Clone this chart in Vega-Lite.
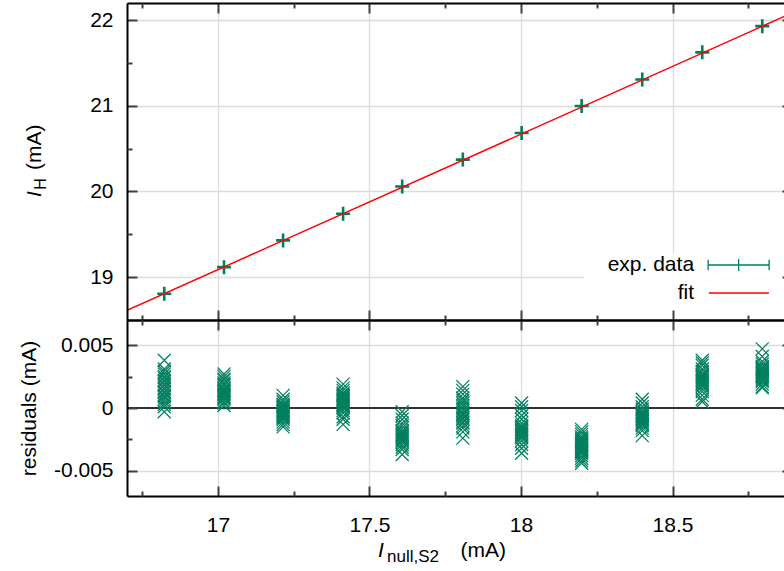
{
  "$schema": "https://vega.github.io/schema/vega-lite/v6.json",
  "padding": {"left": 18, "top": 2, "right": 0, "bottom": 0},
  "bounds": "flush",
  "spacing": 0,
  "config": {
    "font": "Liberation Sans",
    "view": {"stroke": null},
    "axis": {
      "domainColor": "#000000",
      "domainWidth": 2,
      "tickColor": "#404040",
      "tickWidth": 2,
      "gridColor": "#dcdcdc",
      "gridWidth": 1.3,
      "labelFont": "Liberation Sans",
      "labelFontSize": 21,
      "labelColor": "#000000",
      "titleFont": "Liberation Sans",
      "titleFontSize": 21,
      "titleFontWeight": "normal",
      "titleColor": "#000000"
    }
  },
  "datasets": {
    "points": [
      {"x": 16.823, "y": 18.806}, {"x": 17.02, "y": 19.117}, {"x": 17.215, "y": 19.429},
      {"x": 17.413, "y": 19.741}, {"x": 17.608, "y": 20.058}, {"x": 17.808, "y": 20.372},
      {"x": 18.002, "y": 20.683}, {"x": 18.2, "y": 20.998}, {"x": 18.4, "y": 21.307},
      {"x": 18.598, "y": 21.624}, {"x": 18.796, "y": 21.93}
    ],
    "fit": [
      {"x": 16.7, "y": 18.613}, {"x": 18.9, "y": 22.093}
    ],
    "one": [{}],
    "resid": [
      {"x": 16.823, "r": 0.0038}, {"x": 16.823, "r": 0.0031}, {"x": 16.823, "r": 0.0029}, {"x": 16.823, "r": 0.0027},
      {"x": 16.823, "r": 0.0025}, {"x": 16.823, "r": 0.0024}, {"x": 16.823, "r": 0.0022}, {"x": 16.823, "r": 0.0021},
      {"x": 16.823, "r": 0.0019}, {"x": 16.823, "r": 0.0018}, {"x": 16.823, "r": 0.0016}, {"x": 16.823, "r": 0.0015},
      {"x": 16.823, "r": 0.0013}, {"x": 16.823, "r": 0.0012}, {"x": 16.823, "r": 0.0010}, {"x": 16.823, "r": 0.0009},
      {"x": 16.823, "r": 0.0007}, {"x": 16.823, "r": 0.0005}, {"x": 16.823, "r": 0.0003}, {"x": 16.823, "r": 0.0001},
      {"x": 16.823, "r": -0.0003},
      {"x": 17.02, "r": 0.0027}, {"x": 17.02, "r": 0.0025}, {"x": 17.02, "r": 0.0023}, {"x": 17.02, "r": 0.0022},
      {"x": 17.02, "r": 0.0020}, {"x": 17.02, "r": 0.0019}, {"x": 17.02, "r": 0.0018}, {"x": 17.02, "r": 0.0016},
      {"x": 17.02, "r": 0.0015}, {"x": 17.02, "r": 0.0014}, {"x": 17.02, "r": 0.0013}, {"x": 17.02, "r": 0.0012},
      {"x": 17.02, "r": 0.0011}, {"x": 17.02, "r": 0.0010}, {"x": 17.02, "r": 0.0009}, {"x": 17.02, "r": 0.0008},
      {"x": 17.02, "r": 0.0007}, {"x": 17.02, "r": 0.0005}, {"x": 17.02, "r": 0.0004}, {"x": 17.02, "r": 0.0002},
      {"x": 17.215, "r": 0.0010}, {"x": 17.215, "r": 0.0007}, {"x": 17.215, "r": 0.0005}, {"x": 17.215, "r": 0.0003},
      {"x": 17.215, "r": 0.0002}, {"x": 17.215, "r": 0.0001}, {"x": 17.215, "r": 0.0000}, {"x": 17.215, "r": -0.0001},
      {"x": 17.215, "r": -0.0002}, {"x": 17.215, "r": -0.0003}, {"x": 17.215, "r": -0.0004}, {"x": 17.215, "r": -0.0005},
      {"x": 17.215, "r": -0.0006}, {"x": 17.215, "r": -0.0007}, {"x": 17.215, "r": -0.0008}, {"x": 17.215, "r": -0.0009},
      {"x": 17.215, "r": -0.0011}, {"x": 17.215, "r": -0.0013}, {"x": 17.215, "r": -0.0015},
      {"x": 17.413, "r": 0.0019}, {"x": 17.413, "r": 0.0016}, {"x": 17.413, "r": 0.0014}, {"x": 17.413, "r": 0.0012},
      {"x": 17.413, "r": 0.0011}, {"x": 17.413, "r": 0.0010}, {"x": 17.413, "r": 0.0009}, {"x": 17.413, "r": 0.0008},
      {"x": 17.413, "r": 0.0007}, {"x": 17.413, "r": 0.0006}, {"x": 17.413, "r": 0.0005}, {"x": 17.413, "r": 0.0004},
      {"x": 17.413, "r": 0.0003}, {"x": 17.413, "r": 0.0002}, {"x": 17.413, "r": 0.0001}, {"x": 17.413, "r": 0.0000},
      {"x": 17.413, "r": -0.0002}, {"x": 17.413, "r": -0.0004}, {"x": 17.413, "r": -0.0007}, {"x": 17.413, "r": -0.0009},
      {"x": 17.413, "r": -0.0013},
      {"x": 17.608, "r": -0.0003}, {"x": 17.608, "r": -0.0006}, {"x": 17.608, "r": -0.0009}, {"x": 17.608, "r": -0.0012},
      {"x": 17.608, "r": -0.0014}, {"x": 17.608, "r": -0.0016}, {"x": 17.608, "r": -0.0018}, {"x": 17.608, "r": -0.0019},
      {"x": 17.608, "r": -0.0020}, {"x": 17.608, "r": -0.0021}, {"x": 17.608, "r": -0.0022}, {"x": 17.608, "r": -0.0023},
      {"x": 17.608, "r": -0.0024}, {"x": 17.608, "r": -0.0025}, {"x": 17.608, "r": -0.0026}, {"x": 17.608, "r": -0.0027},
      {"x": 17.608, "r": -0.0029}, {"x": 17.608, "r": -0.0031}, {"x": 17.608, "r": -0.0033}, {"x": 17.608, "r": -0.0037},
      {"x": 17.808, "r": 0.0017}, {"x": 17.808, "r": 0.0014}, {"x": 17.808, "r": 0.0011}, {"x": 17.808, "r": 0.0008},
      {"x": 17.808, "r": 0.0006}, {"x": 17.808, "r": 0.0004}, {"x": 17.808, "r": 0.0002}, {"x": 17.808, "r": 0.0000},
      {"x": 17.808, "r": -0.0002}, {"x": 17.808, "r": -0.0004}, {"x": 17.808, "r": -0.0005}, {"x": 17.808, "r": -0.0006},
      {"x": 17.808, "r": -0.0008}, {"x": 17.808, "r": -0.0009}, {"x": 17.808, "r": -0.0011}, {"x": 17.808, "r": -0.0012},
      {"x": 17.808, "r": -0.0014}, {"x": 17.808, "r": -0.0016}, {"x": 17.808, "r": -0.0019}, {"x": 17.808, "r": -0.0024},
      {"x": 18.002, "r": 0.0004}, {"x": 18.002, "r": 0.0001}, {"x": 18.002, "r": -0.0002}, {"x": 18.002, "r": -0.0006},
      {"x": 18.002, "r": -0.0009}, {"x": 18.002, "r": -0.0012}, {"x": 18.002, "r": -0.0014}, {"x": 18.002, "r": -0.0015},
      {"x": 18.002, "r": -0.0016}, {"x": 18.002, "r": -0.0017}, {"x": 18.002, "r": -0.0018}, {"x": 18.002, "r": -0.0019},
      {"x": 18.002, "r": -0.0020}, {"x": 18.002, "r": -0.0021}, {"x": 18.002, "r": -0.0022}, {"x": 18.002, "r": -0.0023},
      {"x": 18.002, "r": -0.0024}, {"x": 18.002, "r": -0.0026}, {"x": 18.002, "r": -0.0029}, {"x": 18.002, "r": -0.0032},
      {"x": 18.002, "r": -0.0036},
      {"x": 18.2, "r": -0.0017}, {"x": 18.2, "r": -0.0019}, {"x": 18.2, "r": -0.0021}, {"x": 18.2, "r": -0.0023},
      {"x": 18.2, "r": -0.0024}, {"x": 18.2, "r": -0.0025}, {"x": 18.2, "r": -0.0026}, {"x": 18.2, "r": -0.0027},
      {"x": 18.2, "r": -0.0028}, {"x": 18.2, "r": -0.0029}, {"x": 18.2, "r": -0.0030}, {"x": 18.2, "r": -0.0031},
      {"x": 18.2, "r": -0.0032}, {"x": 18.2, "r": -0.0033}, {"x": 18.2, "r": -0.0034}, {"x": 18.2, "r": -0.0035},
      {"x": 18.2, "r": -0.0036}, {"x": 18.2, "r": -0.0038}, {"x": 18.2, "r": -0.0040}, {"x": 18.2, "r": -0.0042},
      {"x": 18.2, "r": -0.0044},
      {"x": 18.4, "r": 0.0007}, {"x": 18.4, "r": 0.0004}, {"x": 18.4, "r": 0.0001}, {"x": 18.4, "r": -0.0001},
      {"x": 18.4, "r": -0.0003}, {"x": 18.4, "r": -0.0004}, {"x": 18.4, "r": -0.0005}, {"x": 18.4, "r": -0.0006},
      {"x": 18.4, "r": -0.0007}, {"x": 18.4, "r": -0.0008}, {"x": 18.4, "r": -0.0009}, {"x": 18.4, "r": -0.0010},
      {"x": 18.4, "r": -0.0011}, {"x": 18.4, "r": -0.0012}, {"x": 18.4, "r": -0.0013}, {"x": 18.4, "r": -0.0014},
      {"x": 18.4, "r": -0.0016}, {"x": 18.4, "r": -0.0018}, {"x": 18.4, "r": -0.0022},
      {"x": 18.598, "r": 0.0038}, {"x": 18.598, "r": 0.0036}, {"x": 18.598, "r": 0.0034}, {"x": 18.598, "r": 0.0031},
      {"x": 18.598, "r": 0.0029}, {"x": 18.598, "r": 0.0027}, {"x": 18.598, "r": 0.0026}, {"x": 18.598, "r": 0.0025},
      {"x": 18.598, "r": 0.0024}, {"x": 18.598, "r": 0.0023}, {"x": 18.598, "r": 0.0022}, {"x": 18.598, "r": 0.0021},
      {"x": 18.598, "r": 0.0020}, {"x": 18.598, "r": 0.0019}, {"x": 18.598, "r": 0.0018}, {"x": 18.598, "r": 0.0017},
      {"x": 18.598, "r": 0.0015}, {"x": 18.598, "r": 0.0013}, {"x": 18.598, "r": 0.0010}, {"x": 18.598, "r": 0.0007},
      {"x": 18.598, "r": 0.0005},
      {"x": 18.796, "r": 0.0047}, {"x": 18.796, "r": 0.0041}, {"x": 18.796, "r": 0.0037}, {"x": 18.796, "r": 0.0035},
      {"x": 18.796, "r": 0.0033}, {"x": 18.796, "r": 0.0032}, {"x": 18.796, "r": 0.0031}, {"x": 18.796, "r": 0.0030},
      {"x": 18.796, "r": 0.0029}, {"x": 18.796, "r": 0.0028}, {"x": 18.796, "r": 0.0027}, {"x": 18.796, "r": 0.0026},
      {"x": 18.796, "r": 0.0025}, {"x": 18.796, "r": 0.0024}, {"x": 18.796, "r": 0.0023}, {"x": 18.796, "r": 0.0022},
      {"x": 18.796, "r": 0.0021}, {"x": 18.796, "r": 0.0019}, {"x": 18.796, "r": 0.0017}, {"x": 18.796, "r": 0.0016}
    ]
  },
  "vconcat": [
    {
      "width": 658,
      "height": 317,
      "layer": [
        {
          "data": {"name": "points"},
          "mark": {"type": "point", "shape": "M-1,0H1M0,-1V1", "size": 196, "strokeWidth": 2.6, "filled": false, "color": "#007f5f", "opacity": 1},
          "encoding": {
            "x": {"field": "x", "type": "quantitative",
                  "scale": {"domain": [16.7, 18.871], "nice": false, "zero": false},
                  "axis": {"orient": "bottom", "values": [17, 17.5, 18, 18.5], "grid": true, "ticks": false, "labels": false, "domain": false, "title": null, "zindex": 0}},
            "y": {"field": "y", "type": "quantitative",
                  "scale": {"domain": [18.5, 22.2], "nice": false, "zero": false},
                  "axis": {"orient": "left", "values": [19, 20, 21, 22], "grid": true, "ticks": false, "labels": false, "domain": false, "title": null, "zindex": 0}}
          }
        },
        {
          "data": {"name": "fit"},
          "mark": {"type": "line", "color": "#ff0000", "strokeWidth": 1.5, "clip": true},
          "encoding": {
            "x": {"field": "x", "type": "quantitative",
                  "axis": {"orient": "bottom", "values": [17, 17.5, 18, 18.5], "tickSize": -10, "grid": false, "labels": false, "domain": true, "title": null, "zindex": 1}},
            "y": {"field": "y", "type": "quantitative",
                  "axis": {"orient": "left", "values": [19, 20, 21, 22], "tickSize": -10, "grid": false, "domain": true, "title": null, "zindex": 1,
                           "labelExpr": "toString(datum.value)", "labelPadding": 24}}
          }
        },
        {
          "data": {"name": "one"},
          "mark": {"type": "rect", "fill": "#ffffff", "clip": true},
          "encoding": {
            "x": {"datum": 18.208,
                  "axis": {"orient": "top", "values": [17, 17.5, 18, 18.5], "tickSize": -10, "grid": false, "labels": false, "domain": true, "title": null, "zindex": 1}},
            "x2": {"datum": 18.95},
            "y": {"datum": 19.27,
                  "axis": {"orient": "right", "values": [19, 20, 21, 22], "tickSize": -3, "grid": false, "labels": false, "domain": false, "title": null, "zindex": 1}},
            "y2": {"datum": 18.5}
          }
        },
        {
          "data": {"name": "one"},
          "mark": {"type": "text", "text": "exp. data", "align": "right", "baseline": "middle", "fontSize": 21, "color": "#000000"},
          "encoding": {
            "x": {"datum": 18.571,
                  "axis": {"orient": "bottom", "values": [16.75, 17.25, 17.75, 18.25, 18.75], "tickSize": -5, "grid": false, "labels": false, "domain": false, "title": null, "zindex": 1}},
            "y": {"datum": 19.142,
                  "axis": {"orient": "left", "values": [19.5, 20.5, 21.5], "tickSize": -5, "grid": false, "labels": false, "domain": false, "title": null, "zindex": 1}}
          }
        },
        {
          "data": {"name": "one"},
          "mark": {"type": "text", "text": "fit", "align": "right", "baseline": "middle", "fontSize": 21, "color": "#000000"},
          "encoding": {
            "x": {"datum": 18.571,
                  "axis": {"orient": "top", "values": [16.75, 17.25, 17.75, 18.25, 18.75], "tickSize": -5, "grid": false, "labels": false, "domain": false, "title": null, "zindex": 1}},
            "y": {"datum": 18.815, "axis": null}
          }
        },
        {
          "data": {"name": "one"},
          "mark": {"type": "point", "shape": "M-1,0H1M-1,-0.17V0.17M1,-0.17V0.17M0,-0.2V0.2", "size": 3721, "strokeWidth": 1.3, "filled": false, "color": "#007f5f", "opacity": 1},
          "encoding": {"x": {"datum": 18.718, "axis": null}, "y": {"datum": 19.142, "axis": null}}
        },
        {
          "data": {"name": "one"},
          "mark": {"type": "rule", "color": "#ff0000", "strokeWidth": 1.5},
          "encoding": {"x": {"datum": 18.62, "axis": null}, "x2": {"datum": 18.818}, "y": {"datum": 18.815, "axis": null}}
        },
        {
          "data": {"name": "one"},
          "mark": {"type": "text", "text": "I", "align": "left", "baseline": "alphabetic", "angle": 270, "fontSize": 21, "fontStyle": "italic", "color": "#000000"},
          "encoding": {"x": {"datum": 16.4162, "axis": null}, "y": {"datum": 19.936, "axis": null}}
        },
        {
          "data": {"name": "one"},
          "mark": {"type": "text", "text": "H", "align": "left", "baseline": "alphabetic", "angle": 270, "fontSize": 16, "color": "#000000"},
          "encoding": {"x": {"datum": 16.4311, "axis": null}, "y": {"datum": 20.02, "axis": null}}
        },
        {
          "data": {"name": "one"},
          "mark": {"type": "text", "text": "(mA)", "align": "left", "baseline": "alphabetic", "angle": 270, "fontSize": 21, "color": "#000000"},
          "encoding": {"x": {"datum": 16.4162, "axis": null}, "y": {"datum": 20.25, "axis": null}}
        }
      ],
      "resolve": {"axis": {"x": "independent", "y": "independent"}}
    },
    {
      "width": 658,
      "height": 176,
      "layer": [
        {
          "data": {"name": "one"},
          "mark": {"type": "rule", "color": "#333333", "strokeWidth": 2, "clip": true},
          "encoding": {
            "x": {"datum": 16.7,
                  "scale": {"domain": [16.7, 18.871], "nice": false, "zero": false},
                  "axis": {"orient": "bottom", "values": [17, 17.5, 18, 18.5], "grid": true, "ticks": false, "labels": false, "domain": false, "title": null, "zindex": 0}},
            "x2": {"datum": 18.9},
            "y": {"datum": 0,
                  "scale": {"domain": [-0.007, 0.007], "nice": false, "zero": false},
                  "axis": {"orient": "left", "values": [-0.005, 0.005], "grid": true, "ticks": false, "labels": false, "domain": false, "title": null, "zindex": 0}}
          }
        },
        {
          "data": {"name": "resid"},
          "mark": {"type": "point", "shape": "M-1,-1L1,1M-1,1L1,-1", "size": 169, "strokeWidth": 1.25, "filled": false, "color": "#007f5f", "opacity": 1},
          "encoding": {
            "x": {"field": "x", "type": "quantitative",
                  "axis": {"orient": "bottom", "values": [17, 17.5, 18, 18.5], "tickSize": -10, "grid": false, "domain": true, "title": null, "zindex": 1,
                           "labelExpr": "toString(datum.value)", "labelPadding": 28}},
            "y": {"field": "r", "type": "quantitative",
                  "axis": {"orient": "left", "values": [-0.005, 0, 0.005], "tickSize": -10, "grid": false, "domain": true, "zindex": 1,
                           "title": "residuals (mA)", "titlePadding": 14,
                           "labelExpr": "toString(datum.value)", "labelPadding": 24}}
          }
        },
        {
          "data": {"name": "one"},
          "mark": {"type": "text", "text": "I", "align": "left", "baseline": "alphabetic", "fontSize": 21, "fontStyle": "italic", "color": "#000000"},
          "encoding": {
            "x": {"datum": 17.528,
                  "axis": {"orient": "top", "values": [17, 17.5, 18, 18.5], "tickSize": -10, "grid": false, "labels": false, "domain": true, "title": null, "zindex": 1}},
            "y": {"datum": -0.011852,
                  "axis": {"orient": "right", "values": [-0.005, 0, 0.005], "tickSize": -3, "grid": false, "labels": false, "domain": false, "title": null, "zindex": 1}}
          }
        },
        {
          "data": {"name": "one"},
          "mark": {"type": "text", "text": "null,S2", "align": "left", "baseline": "alphabetic", "fontSize": 17, "color": "#000000"},
          "encoding": {
            "x": {"datum": 17.558,
                  "axis": {"orient": "bottom", "values": [16.75, 17.25, 17.75, 18.25, 18.75], "tickSize": -5, "grid": false, "labels": false, "domain": false, "title": null, "zindex": 1}},
            "y": {"datum": -0.01225,
                  "axis": {"orient": "left", "values": [-0.0025, 0.0025], "tickSize": -5, "grid": false, "labels": false, "domain": false, "title": null, "zindex": 1}}
          }
        },
        {
          "data": {"name": "one"},
          "mark": {"type": "text", "text": "(mA)", "align": "left", "baseline": "alphabetic", "fontSize": 21, "color": "#000000"},
          "encoding": {
            "x": {"datum": 17.8,
                  "axis": {"orient": "top", "values": [16.75, 17.25, 17.75, 18.25, 18.75], "tickSize": -5, "grid": false, "labels": false, "domain": false, "title": null, "zindex": 1}},
            "y": {"datum": -0.011852, "axis": null}
          }
        }
      ],
      "resolve": {"axis": {"x": "independent", "y": "independent"}}
    }
  ]
}
